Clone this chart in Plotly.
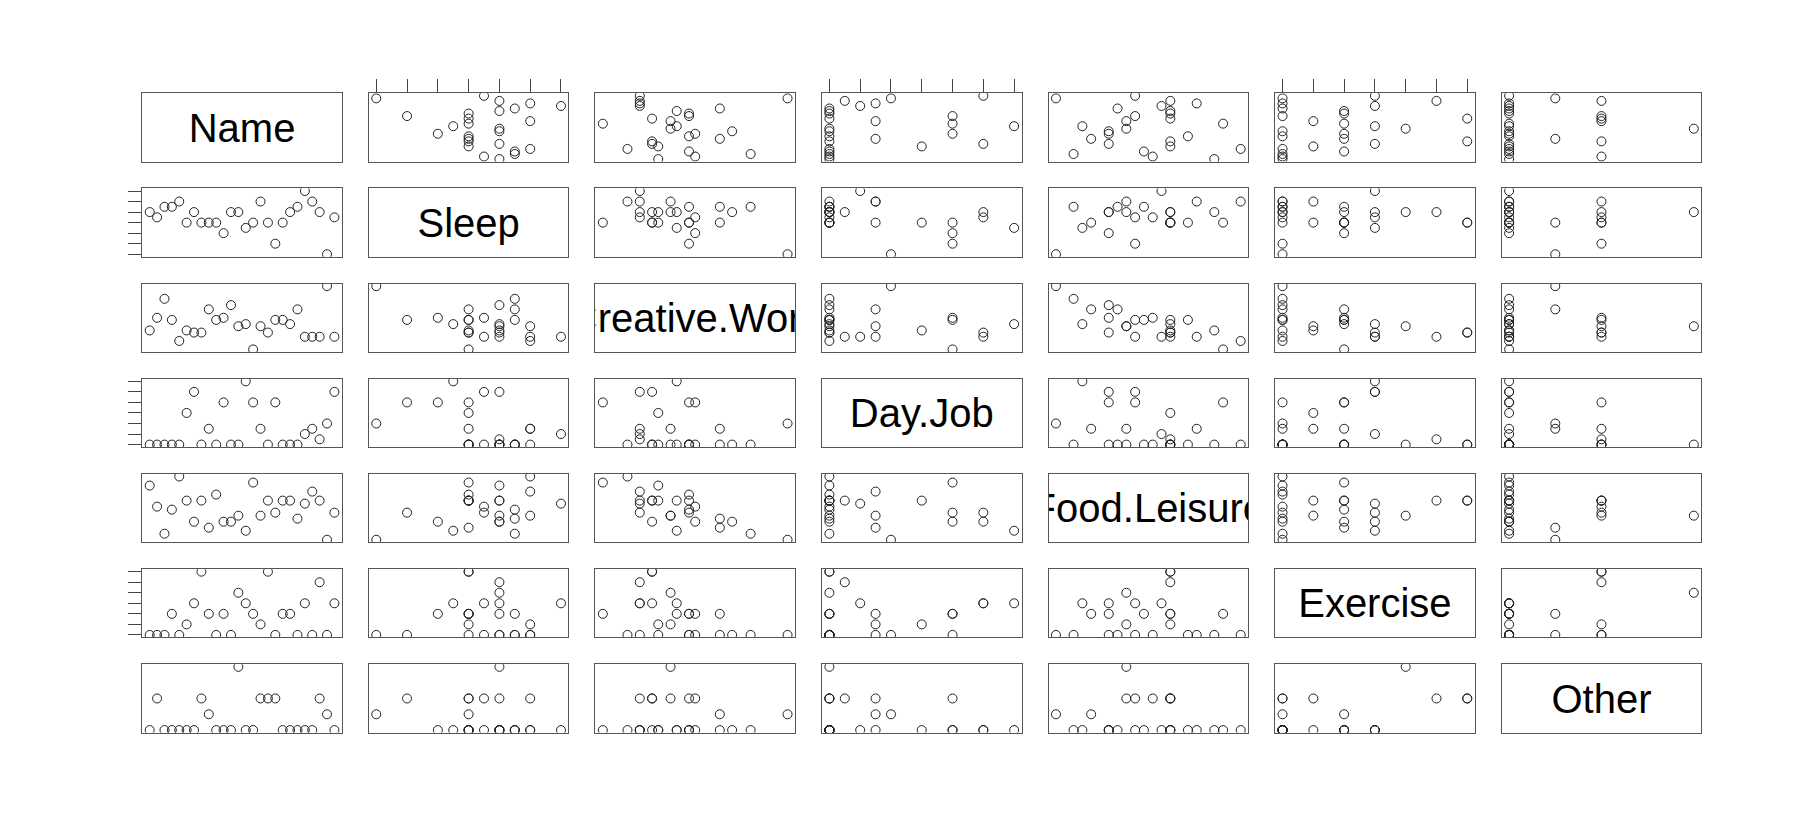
import plotly.graph_objects as go

# ---- data (hours per day) ----
names = ["Angelou", "Auden", "Balzac", "Beethoven", "Darwin", "Dickens", "Flaubert",
         "Franklin", "Freud", "Hugo", "Jung", "Kafka", "Kant", "Le Corbusier", "Mahler",
         "Mann", "Matisse", "Milton", "Miro", "Mozart", "Murakami", "O'Connor", "Picasso",
         "Tchaikovsky", "Voltaire", "Vonnegut"]
sleep = [8, 7.5, 8.5, 8.5, 9, 7, 8, 7, 7, 7, 6, 8, 8, 6.5, 7, 9, 7, 5, 7, 8, 8.5, 10, 9, 8, 4, 7.5]
creative_work = [5.5, 8.5, 13, 8, 3, 5.5, 5, 5, 10.5, 8, 8.5, 11.5, 6.5, 7, 1, 6.5, 5, 8, 8, 7,
                 10.5, 4, 4, 4, 16, 4]
day_job = [0, 0, 0, 0, 0, 3, 5, 0, 1.5, 0, 4, 0, 0, 6, 4, 1.5, 0, 4, 0, 0, 0, 1, 1.5, 0.5, 2, 5]
food_leisure = [10.5, 7, 2.5, 6.5, 12, 8, 4.5, 8, 3.5, 9, 4.5, 4.5, 5.5, 3, 11, 5.5, 8, 6, 8, 8,
                5, 7.5, 9.5, 8, 1.5, 6]
exercise = [0, 0, 0, 1, 0, 0.5, 1.5, 3, 1, 0, 1, 0, 2, 1.5, 1, 0.5, 3, 0, 1, 1, 0, 1.5, 0, 2.5, 0, 1.5]
other = [0, 1, 0, 0, 0, 0, 0, 1, 0.5, 0, 0, 0, 2, 0, 0, 1, 1, 1, 0, 0, 0, 0, 0, 1, 0.5, 0]

var_labels = ["Name", "Sleep", "Creative.Work", "Day.Job", "Food.Leisure", "Exercise", "Other"]
sleep_ticks = [4, 5, 6, 7, 8, 9, 10]
day_job_ticks = [0, 1, 2, 3, 4, 5, 6]
exercise_ticks = [0, 0.5, 1, 1.5, 2, 2.5, 3]

series = [names, sleep, creative_work, day_job, food_leisure, exercise, other]
ticks = {1: sleep_ticks, 3: day_job_ticks, 5: exercise_ticks}

# ---- layout geometry (pixels) ----
W, H = 1812, 840
col_left0, col_pitch, panel_w = 142.3, 226.57, 199.5
row_top0, row_pitch, panel_h = 93.3, 95.17, 68.3
n = len(var_labels)


def axis_range(i):
    if i == 0:
        return [-1, len(names)]
    v = series[i]
    lo, hi = min(v), max(v)
    pad = 0.04 * (hi - lo)
    return [lo - pad, hi + pad]


fig = go.Figure()
layout = {}
for r in range(n):
    for c in range(n):
        k = r * n + c + 1
        xn = "x" if k == 1 else f"x{k}"
        yn = "y" if k == 1 else f"y{k}"
        xa = "xaxis" if k == 1 else f"xaxis{k}"
        ya = "yaxis" if k == 1 else f"yaxis{k}"
        x0 = col_left0 + c * col_pitch
        y0 = row_top0 + r * row_pitch
        common = dict(showgrid=False, zeroline=False, showline=True, mirror=True,
                      linecolor="#555", linewidth=1, showticklabels=False, ticks="")
        xax = dict(common, domain=[x0 / W, (x0 + panel_w) / W], anchor=yn,
                   range=axis_range(c))
        yax = dict(common, domain=[1 - (y0 + panel_h) / H, 1 - y0 / H], anchor=xn,
                   range=axis_range(r))
        if r == c:
            xax["range"] = [0, 1]
            yax["range"] = [0, 1]
            fig.add_trace(go.Scatter(x=[0.5], y=[0.44], mode="text", text=[var_labels[r]],
                                     textposition="middle center", cliponaxis=True,
                                     textfont=dict(family="Liberation Sans, Arial", size=40,
                                                   color="black"),
                                     xaxis=xn, yaxis=yn, showlegend=False, hoverinfo="skip"))
        else:
            if c == 0:
                xax.update(type="category", categoryorder="array", categoryarray=names)
            if r == 0:
                yax.update(type="category", categoryorder="array", categoryarray=names)
            fig.add_trace(go.Scatter(x=series[c], y=series[r], mode="markers", cliponaxis=True,
                                     marker=dict(symbol="circle-open", size=9, color="#222",
                                                 line=dict(width=1, color="#222")),
                                     xaxis=xn, yaxis=yn, showlegend=False))
            if r == 0 and c in ticks:
                xax.update(side="top", ticks="outside", ticklen=13, tickwidth=1,
                           tickcolor="#444", tickvals=ticks[c])
            if c == 0 and r in ticks:
                yax.update(side="left", ticks="outside", ticklen=13, tickwidth=1,
                           tickcolor="#444", tickvals=ticks[r])
        layout[xa] = xax
        layout[ya] = yax

fig.update_layout(**layout)
fig.update_layout(width=W, height=H, margin=dict(l=0, r=0, t=0, b=0),
                  paper_bgcolor="white", plot_bgcolor="white", showlegend=False)
fig.write_html("out.html")
